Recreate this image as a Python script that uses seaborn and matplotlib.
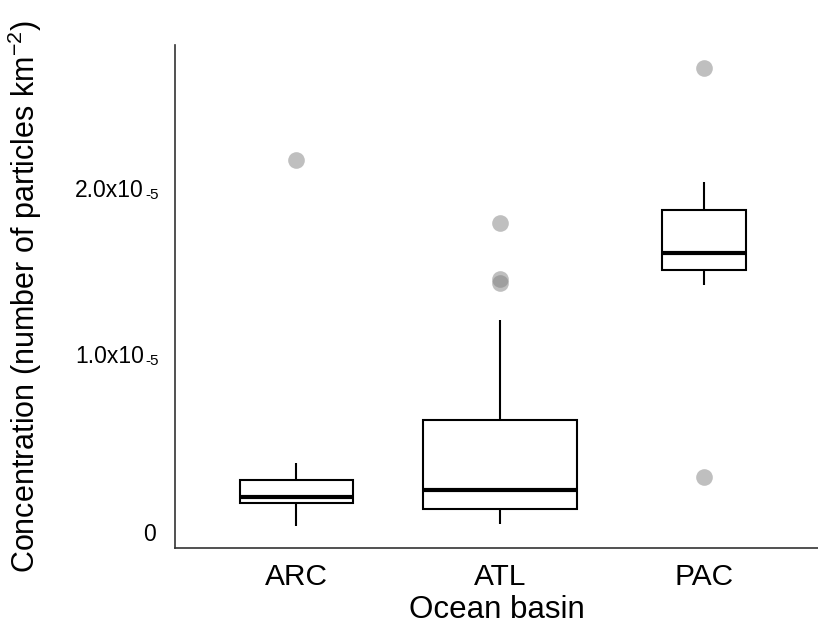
import numpy as np
import pandas as pd
import seaborn as sns
import matplotlib.pyplot as plt
import matplotlib.transforms as mtransforms

# values, in units of 1e-5 particles km-2
basins = ["ARC", "ATL", "PAC"]
arc_vals = [0.036, 0.10, 0.174, 0.19, 0.21, 0.26, 0.312, 0.414, 2.234]
atl_vals = [0.048, 0.07, 0.09, 0.11, 0.138, 0.16, 0.19, 0.22, 0.252,
            0.32, 0.42, 0.55, 0.673, 1.273, 1.495, 1.52, 1.856]
pac_vals = [0.33, 1.483, 1.574, 1.62, 1.676, 1.80, 1.934, 2.10, 2.787]
box_widths = [0.554, 0.755, 0.412]  # varwidth look of the original
ytick_vals = [0, 1e-5, 2e-5]
ytick_main = ["0", "1.0x10", "2.0x10"]
ytick_exp = ["", "-5", "-5"]
scale = 1e-5

sns.set_style("white")
plt.rcParams["font.family"] = ["Liberation Sans", "DejaVu Sans"]
plt.rcParams["mathtext.fontset"] = "custom"
plt.rcParams["mathtext.rm"] = "Liberation Sans"
plt.rcParams["mathtext.it"] = "Liberation Sans"
plt.rcParams["text.color"] = "black"

rows = []
for name, vals in zip(basins, [arc_vals, atl_vals, pac_vals]):
    for v in vals:
        rows.append({"basin": name, "conc": v * scale})
data = pd.DataFrame(rows)

fig = plt.figure(figsize=(8.18, 6.37), dpi=100)
ax = fig.add_axes([0.214, 0.14, 0.786, 0.789])

# one call per basin so each box can get its own width
for name, w in zip(basins, box_widths):
    sns.boxplot(data=data[data["basin"] == name], x="basin", y="conc",
                order=basins, width=w, color="white", linecolor="black",
                linewidth=1.5, ax=ax,
                capprops={"visible": False},
                medianprops={"linewidth": 3, "color": "black"},
                flierprops={"marker": "o", "markerfacecolor": "grey",
                            "markeredgecolor": "none", "alpha": 0.5,
                            "markersize": 12})

ax.set_xlim(-0.593, 2.559)
ax.set_ylim(-0.096e-5, 2.925e-5)
ax.set_yticks(ytick_vals)
ax.set_yticklabels(["0", "", ""])

# y tick labels with the small exponent sitting on the baseline
ytrans = ax.get_yaxis_transform()
for val, main, exp in zip(ytick_vals, ytick_main, ytick_exp):
    if not exp:
        continue
    t1 = ytrans + mtransforms.ScaledTranslation(-0.31, 0.02, fig.dpi_scale_trans)
    ax.text(0, val, main, transform=t1, ha="right", va="baseline",
            fontsize=16.5, color="black")
    t2 = ytrans + mtransforms.ScaledTranslation(-0.16, 0.005, fig.dpi_scale_trans)
    ax.text(0, val, exp, transform=t2, ha="right", va="baseline",
            fontsize=11, color="black")

ax.set_xlabel("Ocean basin", fontsize=22.5, labelpad=3, color="black")
ax.set_ylabel("Concentration (number of particles km$^{-2}$)", fontsize=22,
              color="black")
ax.yaxis.set_label_coords(-0.204, 0.5)
ax.tick_params(axis="x", labelsize=21.5, length=3, color="#555555", pad=8,
               labelcolor="black")
ax.tick_params(axis="y", labelsize=16.5, length=3, color="#555555", pad=10.5,
               labelcolor="black")

sns.despine(ax=ax)
ax.spines["left"].set_color("#333333")
ax.spines["bottom"].set_color("#333333")
ax.spines["left"].set_linewidth(1.2)
ax.spines["bottom"].set_linewidth(1.2)

fig.savefig("out.png", dpi=100)
